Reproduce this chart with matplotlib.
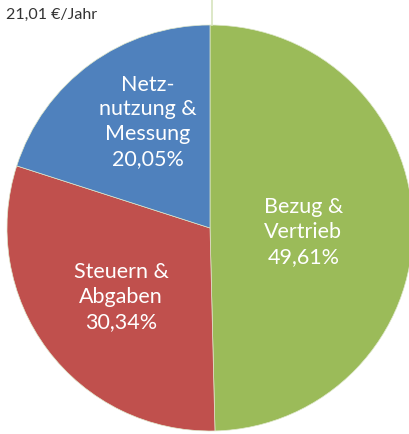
import numpy as np
import matplotlib
matplotlib.use("Agg")
from matplotlib import pyplot as plt

# Daten
labels = ["Bezug &\nVertrieb", "Steuern &\nAbgaben", "Netz-\nnutzung &\nMessung"]
anteile = [49.61, 30.34, 20.05]
farben = ["#9BBB59", "#C0504D", "#4F81BD"]
titel = "21,01 €/Jahr"

plt.rcParams['font.family'] = ['Lato', 'DejaVu Sans']

fig = plt.figure(figsize=(4.10, 4.35), dpi=100)
ax = fig.add_axes([0, 0, 1, 1])

mitte = (210, 206)
radius = 203

wedges, _ = ax.pie(anteile, colors=farben, startangle=90, counterclock=False,
                   center=mitte, radius=radius,
                   wedgeprops=dict(linewidth=0.5, edgecolor="#dfe8cc"))

# Beschriftung in den Segmenten (Abstand und Winkelkorrektur je Segment)
abstand = [0.46, 0.55, 0.61]
korrektur = [-2.7, 0.6, -6.0]
for w, lab, val, d, k in zip(wedges, labels, anteile, abstand, korrektur):
    winkel = np.deg2rad((w.theta1 + w.theta2) / 2 + k)
    x = mitte[0] + d * radius * np.cos(winkel)
    y = mitte[1] + d * radius * np.sin(winkel)
    txt = lab + "\n" + f"{val:.2f}".replace(".", ",") + "%"
    ax.text(x, y, txt, ha="center", va="center", color="white",
            fontsize=15.5, linespacing=1.3)

# feine Linie oben
ax.plot([mitte[0] + 2, mitte[0] + 2], [mitte[1] + radius, 435], color="#d7e4bd", lw=1.2)

ax.text(6, 420, titel, ha="left", va="center", fontsize=11.5, color="#333333")

ax.set_xlim(0, 410)
ax.set_ylim(0, 435)
ax.set_aspect("auto")
ax.axis("off")

fig.savefig("out.png", dpi=100)
